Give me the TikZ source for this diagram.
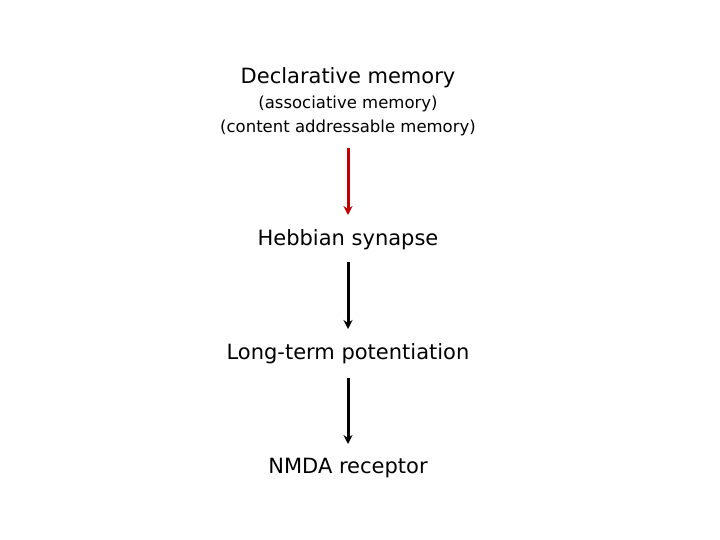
\documentclass[tikz,border=0pt]{standalone}
\usepackage{fontspec}
\setmainfont{DejaVu Sans}
\usetikzlibrary{arrows.meta}
\definecolor{darkred}{RGB}{192,0,0}
\begin{document}
\begin{tikzpicture}[x=1pt,y=-1pt,
  big/.style={font=\fontsize{21}{24}\selectfont, inner sep=0pt, anchor=center},
  small/.style={font=\fontsize{16.5}{20}\selectfont, inner sep=0pt, anchor=center},
  arr/.style={line width=3pt, -{Stealth[length=9pt,width=9pt]}}]
\useasboundingbox (0,0) rectangle (720,540);
\node[big] (dm) at (348,78) {Declarative memory};
\node[small] (am) at (348,104) {(associative memory)};
\node[small] (cam) at (348,128) {(content addressable memory)};
\node[big] (hs) at (348,240) {Hebbian synapse};
\node[big] (ltp) at (348,354) {Long-term potentiation};
\node[big] (nmda) at (348,468) {NMDA receptor};
\coordinate (a1) at (348,148); \coordinate (b1) at (348,215);
\coordinate (a2) at (348,262); \coordinate (b2) at (348,329);
\coordinate (a3) at (348,378); \coordinate (b3) at (348,444);
\draw[arr, darkred] (a1) -- (b1);
\draw[arr] (a2) -- (b2);
\draw[arr] (a3) -- (b3);
\end{tikzpicture}
\end{document}
